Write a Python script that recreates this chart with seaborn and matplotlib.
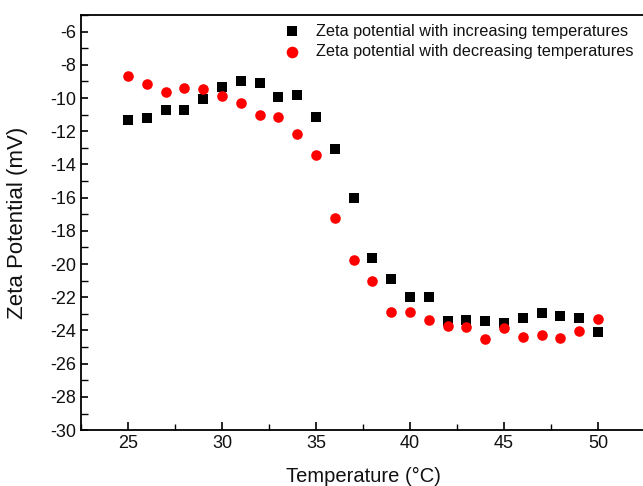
import numpy as np
import pandas as pd
import matplotlib
matplotlib.use('Agg')
import matplotlib.pyplot as plt
import seaborn as sns
from matplotlib.ticker import MultipleLocator

temps = [25, 26, 27, 28, 29, 30, 31, 32, 33, 34, 35, 36, 37,
         38, 39, 40, 41, 42, 43, 44, 45, 46, 47, 48, 49, 50]
zeta_up = [-11.3, -11.18, -10.69, -10.69, -10.04, -9.33, -9.0, -9.08, -9.94, -9.84,
           -11.12, -13.06, -16.04, -19.66, -20.9, -21.99, -21.99, -23.43, -23.37,
           -23.41, -23.54, -23.27, -22.93, -23.13, -23.23, -24.08]
zeta_down = [-8.7, -9.16, -9.65, -9.39, -9.43, -9.9, -10.28, -11.0, -11.12, -12.18,
             -13.4, -17.24, -19.77, -21.02, -22.89, -22.89, -23.37, -23.75, -23.77,
             -24.5, -23.84, -24.4, -24.26, -24.44, -24.05, -23.3]
label_up = 'Zeta potential with increasing temperatures'
label_down = 'Zeta potential with decreasing temperatures'

df = pd.DataFrame({'T': temps, 'up': zeta_up, 'down': zeta_down})

sns.set_style('ticks')
plt.rcParams['font.family'] = ['Liberation Sans', 'DejaVu Sans']
plt.rcParams['axes.unicode_minus'] = False

fig = plt.figure(figsize=(6.43, 4.86), dpi=100)
ax = fig.add_axes([0.126, 0.115, 0.877, 0.854])

sns.scatterplot(data=df, x='T', y='up', marker='s', color='black', s=48,
                linewidth=0, label=label_up, ax=ax)
sns.scatterplot(data=df, x='T', y='down', marker='o', color='red', s=58,
                linewidth=0, label=label_down, ax=ax)

ax.set_xlim(22.5, 52.5)
ax.set_ylim(-30, -5)
ax.xaxis.set_major_locator(MultipleLocator(5))
ax.xaxis.set_minor_locator(MultipleLocator(2.5))
ax.yaxis.set_major_locator(MultipleLocator(2))
ax.yaxis.set_minor_locator(MultipleLocator(1))
ax.tick_params(which='major', direction='in', length=6, width=1.2, labelsize=13,
               color='black', labelcolor='#111111')
ax.tick_params(which='minor', direction='in', length=4, width=1.0, color='black')
ax.tick_params(axis='y', which='both', length=5)

for side in ['left', 'bottom', 'top']:
    ax.spines[side].set_visible(True)
    ax.spines[side].set_linewidth(1.3)
    ax.spines[side].set_color('black')
ax.spines['right'].set_visible(False)

ax.set_xlabel('Temperature (°C)', fontsize=14.5, labelpad=11, color='#111111')
ax.set_ylabel('Zeta Potential (mV)', fontsize=16, labelpad=16, color='#111111')

leg = ax.legend(loc='upper left', bbox_to_anchor=(0.409, 0.978), bbox_transform=fig.transFigure,
                frameon=False, fontsize=11.7, handletextpad=0.45, labelspacing=0.35,
                borderpad=0.3, markerscale=1.1)
for t in leg.get_texts():
    t.set_color('#111111')

fig.savefig('out.png', dpi=100)
